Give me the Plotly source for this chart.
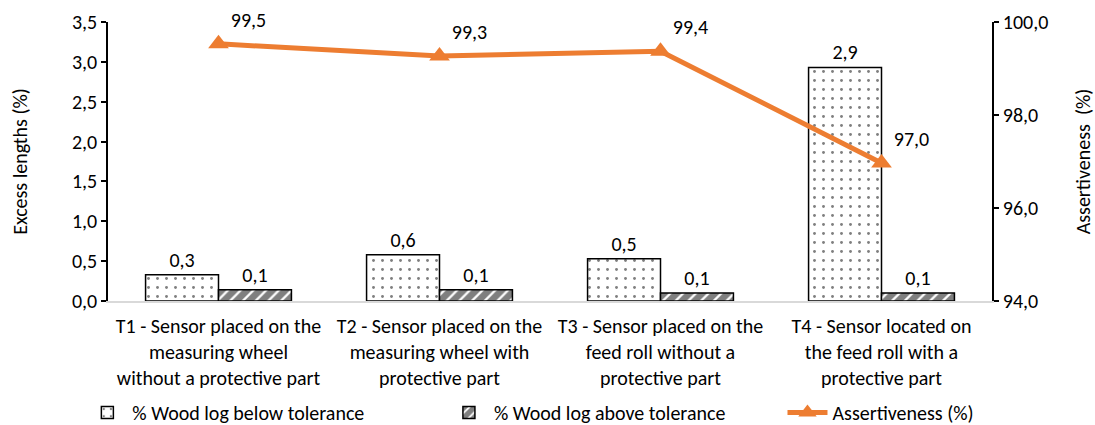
import plotly.graph_objects as go

# Treatments (category axis)
categories = [
    "T1 - Sensor placed on the<br>measuring wheel<br>without a protective part",
    "T2 - Sensor placed on the<br>measuring wheel with<br>protective part",
    "T3 - Sensor placed on the<br>feed roll without a<br>protective part",
    "T4 - Sensor located on<br>the feed roll with a<br>protective part",
]

# Excess lengths (%)
below_tolerance = [0.33, 0.58, 0.53, 2.93]
above_tolerance = [0.14, 0.14, 0.10, 0.10]

# Assertiveness (%)
assertiveness = [99.53, 99.27, 99.37, 96.97]

FONT = "Carlito, Lato, sans-serif"
FS = 20
ORANGE = "#ED7D31"
label_font = dict(size=FS, color="black", family=FONT)

fig = go.Figure()

fig.add_trace(go.Bar(
    name="% Wood log below tolerance",
    legend="legend",
    x=categories,
    y=below_tolerance,
    marker=dict(
        color="white",
        line=dict(color="black", width=1.5),
        pattern=dict(shape=".", fgcolor="black", bgcolor="white", size=9, solidity=0.08),
    ),
    texttemplate="%{y:.1f}",
    textposition="outside",
    textfont=label_font,
    cliponaxis=False,
))

fig.add_trace(go.Bar(
    name="% Wood log above tolerance",
    legend="legend2",
    x=categories,
    y=above_tolerance,
    marker=dict(
        color="white",
        line=dict(color="black", width=1.5),
        pattern=dict(shape="/", fgcolor="black", bgcolor="white", size=9, solidity=0.75),
    ),
    texttemplate="%{y:.1f}",
    textposition="outside",
    textfont=label_font,
    cliponaxis=False,
))

fig.add_trace(go.Scatter(
    name="Assertiveness (%)",
    legend="legend3",
    x=categories,
    y=assertiveness,
    yaxis="y2",
    mode="lines+markers+text",
    line=dict(color=ORANGE, width=5),
    marker=dict(symbol="triangle-up", size=18, color=ORANGE),
    texttemplate="%{y:.1f}",
    textposition="top right",
    textfont=label_font,
    cliponaxis=False,
))

legend_common = dict(
    orientation="h",
    y=-0.40, yanchor="middle",
    xanchor="left",
    font=label_font,
    itemwidth=40,
    bgcolor="rgba(0,0,0,0)",
)

fig.update_layout(
    width=1095,
    height=425,
    margin=dict(l=108, r=103, t=22, b=124, autoexpand=False),
    paper_bgcolor="white",
    plot_bgcolor="white",
    separators=",.",
    font=dict(family=FONT, size=FS, color="black"),
    barmode="group",
    bargap=0.34,
    bargroupgap=0,
    showlegend=True,
    legend=dict(x=-0.029, **legend_common),
    legend2=dict(x=0.380, **legend_common),
    legend3=dict(x=0.763, **legend_common),
    xaxis=dict(
        showline=True, linecolor="#D9D9D9", linewidth=1.5,
        ticks="", showgrid=False,
        ticklabelstandoff=6,
        tickfont=label_font,
    ),
    yaxis=dict(
        range=[0, 3.5], dtick=0.5, tickformat=".1f",
        showline=True, linecolor="black", linewidth=1.5,
        ticks="outside", ticklen=5, tickcolor="black", tickwidth=1.5,
        showgrid=False, zeroline=False,
        title=dict(text="Excess lengths (%)", standoff=39, font=label_font),
        tickfont=label_font,
    ),
    yaxis2=dict(
        overlaying="y", side="right",
        range=[94, 100], dtick=2, tickformat=".1f",
        showline=True, linecolor="black", linewidth=1.5,
        ticks="outside", ticklen=5, tickcolor="black", tickwidth=1.5,
        showgrid=False, zeroline=False,
        title=dict(text="Assertiveness\u00a0\u00a0(%)", standoff=31, font=label_font),
        tickfont=label_font,
    ),
)

fig.write_html("out.html")
